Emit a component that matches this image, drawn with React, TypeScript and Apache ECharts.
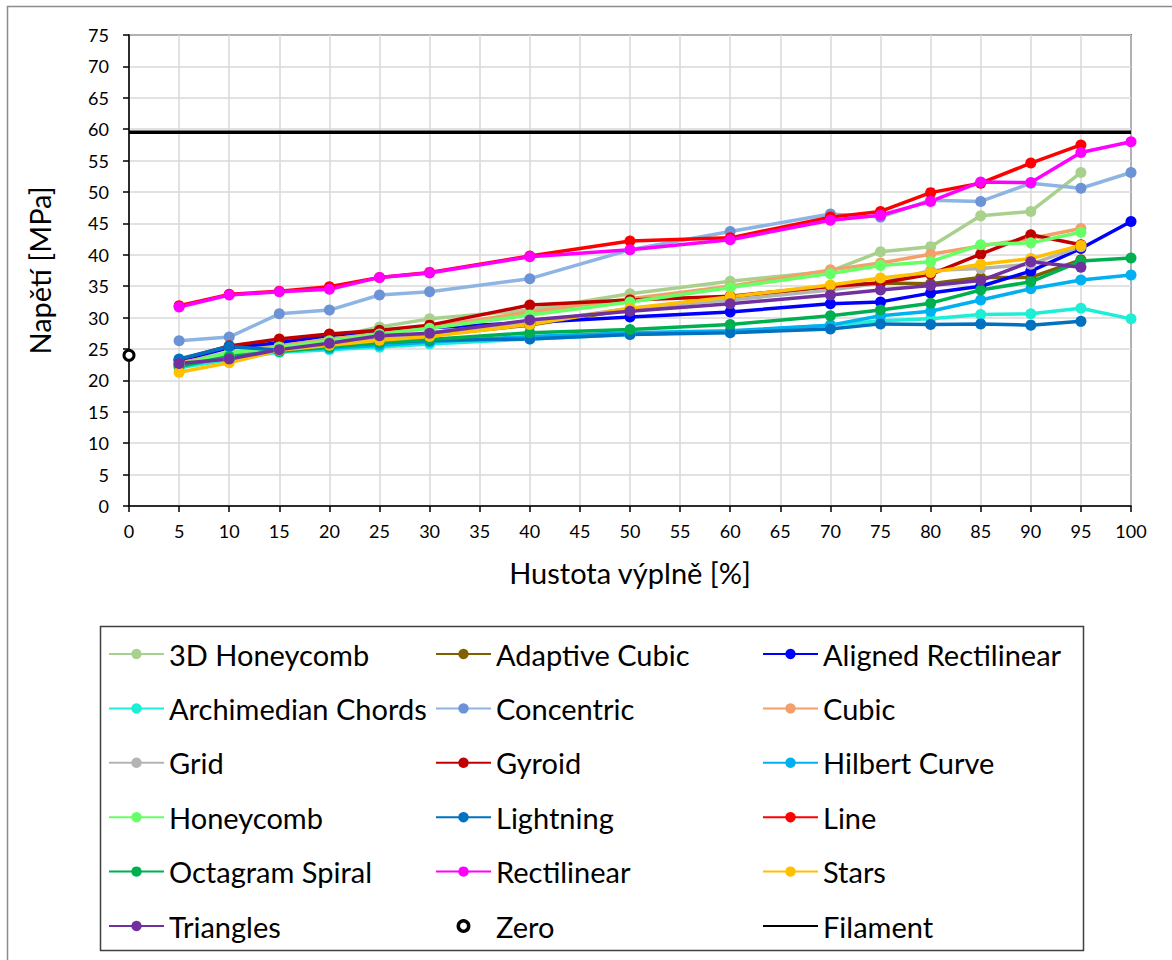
import React, { useEffect, useRef } from "react";
import * as echarts from "echarts";

const infill = [5, 10, 15, 20, 25, 30, 40, 50, 60, 70, 75, 80, 85, 90, 95, 100];
const yTicksMax = 75;

const honey3d = [22.8, 24.5, 25.6, 26.8, 28.5, 29.8, 31.2, 33.8, 35.8, 37.4, 40.5, 41.3, 46.2, 46.9, 53.1];
const adaptiveCubic = [22.5, 23.6, 24.8, 25.6, 26.5, 27.2, 28.8, 31.3, 33.0, 35.0, 35.5, 35.4, 36.4, 36.4, 39.2];
const alignedRect = [23.2, 25.2, 26.0, 27.2, 27.8, 28.4, 29.2, 30.1, 30.9, 32.2, 32.5, 33.9, 35.0, 37.4, 41.0, 45.3];
const archimedean = [22.0, 23.3, 24.5, 24.9, 25.3, 25.8, 26.6, 27.3, 27.8, 28.8, 29.5, 29.8, 30.5, 30.6, 31.5, 29.8];
const concentric = [26.3, 26.9, 30.6, 31.2, 33.6, 34.1, 36.2, 40.8, 43.7, 46.5, 46.0, 48.7, 48.5, 51.4, 50.6, 53.1];
const cubic = [22.8, 24.2, 25.5, 26.5, 27.5, 28.5, 30.9, 33.0, 35.0, 37.6, 38.7, 40.1, 41.4, 42.6, 44.2];
const grid = [22.5, 24.0, 25.0, 26.0, 26.8, 27.6, 29.2, 31.5, 32.8, 34.4, 35.5, 37.5, 37.8, 38.5, 41.3];
const gyroid = [23.3, 25.5, 26.6, 27.4, 28.0, 28.8, 32.0, 32.8, 33.4, 35.0, 35.5, 36.9, 40.1, 43.2, 41.6];
const hilbert = [22.5, 23.6, 24.8, 25.1, 25.6, 26.1, 27.0, 27.6, 27.9, 28.8, 30.3, 31.0, 32.8, 34.6, 36.0, 36.8];
const honeycomb = [22.5, 24.4, 25.3, 26.3, 27.4, 28.3, 30.4, 32.5, 34.8, 37.0, 38.3, 38.9, 41.6, 41.9, 43.6];
const lightning = [23.4, 25.4, 24.8, 25.4, 26.0, 26.4, 26.6, 27.3, 27.6, 28.2, 29.0, 28.9, 29.0, 28.8, 29.4];
const lineInfill = [31.9, 33.7, 34.2, 34.9, 36.4, 37.2, 39.8, 42.2, 42.7, 46.0, 46.9, 49.9, 51.4, 54.6, 57.5];
const octagram = [22.2, 23.8, 24.6, 25.3, 26.0, 26.5, 27.6, 28.1, 28.9, 30.3, 31.2, 32.3, 34.4, 35.7, 39.0, 39.5];
const rectilinear = [31.7, 33.6, 34.1, 34.5, 36.4, 37.1, 39.7, 40.8, 42.4, 45.5, 46.3, 48.5, 51.6, 51.5, 56.3, 58.0];
const stars = [21.3, 22.8, 24.8, 25.6, 26.4, 27.0, 28.9, 31.5, 33.3, 35.2, 36.3, 37.2, 38.5, 39.4, 41.5];
const triangles = [22.7, 23.4, 24.9, 25.9, 27.1, 27.5, 29.6, 31.0, 32.2, 33.6, 34.4, 35.1, 35.9, 38.9, 38.0];
const zeroPoint = [[0, 24.0]];
const filament = [[0, 59.5], [100, 59.5]];

const seriesDefs = [
  { name: "3D Honeycomb", data: honey3d, color: "#A9D18E" },
  { name: "Adaptive Cubic", data: adaptiveCubic, color: "#7F6000" },
  { name: "Aligned Rectilinear", data: alignedRect, color: "#0000FF" },
  { name: "Archimedian Chords", data: archimedean, color: "#1DEFD6" },
  { name: "Concentric", data: concentric, color: "#6C93D6", lineColor: "#8DB4E2" },
  { name: "Cubic", data: cubic, color: "#F4A06A" },
  { name: "Grid", data: grid, color: "#B4B4B4" },
  { name: "Gyroid", data: gyroid, color: "#C00000" },
  { name: "Hilbert Curve", data: hilbert, color: "#00B0F0" },
  { name: "Honeycomb", data: honeycomb, color: "#66FF66" },
  { name: "Lightning", data: lightning, color: "#0070C0" },
  { name: "Line", data: lineInfill, color: "#FF0000" },
  { name: "Octagram Spiral", data: octagram, color: "#00B050" },
  { name: "Rectilinear", data: rectilinear, color: "#FF00FF" },
  { name: "Stars", data: stars, color: "#FFC000" },
  { name: "Triangles", data: triangles, color: "#7030A0" },
];

const legendCol1 = ["3D Honeycomb", "Archimedian Chords", "Grid", "Honeycomb", "Octagram Spiral", "Triangles"];
const legendCol2 = ["Adaptive Cubic", "Concentric", "Gyroid", "Lightning", "Rectilinear", "Zero"];
const legendCol3 = ["Aligned Rectilinear", "Cubic", "Hilbert Curve", "Line", "Stars", "Filament"];

const FONT = "Lato, 'Noto Sans', sans-serif";

export default function App() {
  const ref = useRef<HTMLDivElement>(null);
  useEffect(() => {
    if (!ref.current) return;
    const chart = echarts.init(ref.current, undefined, { renderer: "svg" });

    const lineSeries: any[] = seriesDefs.map((s) => ({
      name: s.name,
      type: "line",
      data: s.data.map((v, i) => [infill[i], v]),
      symbol: "circle",
      symbolSize: 11,
      itemStyle: { color: s.color },
      lineStyle: { color: s.lineColor || s.color, width: 3.5 },
      emphasis: { disabled: true },
    }));

    lineSeries.push({
      name: "Zero",
      type: "line",
      data: zeroPoint,
      symbol: "circle",
      symbolSize: 10,
      itemStyle: { color: "#FFFFFF", borderColor: "#000000", borderWidth: 3 },
      lineStyle: { opacity: 0, width: 0 },
      emphasis: { disabled: true },
    });
    lineSeries.push({
      name: "Filament",
      type: "line",
      data: filament,
      symbol: "none",
      itemStyle: { color: "#000", opacity: 0 },
      lineStyle: { color: "#000", width: 3.5, opacity: 1 },
      emphasis: { disabled: true },
    });

    const legendBase = {
      orient: "vertical",
      top: 639,
      padding: 0,
      itemWidth: 55,
      itemHeight: 13,
      itemGap: 24.4,
      selectedMode: false,
      textStyle: { fontFamily: FONT, fontSize: 29, color: "#000", lineHeight: 30 },
    };

    const col2Data = legendCol2.map((n) =>
      n === "Zero"
        ? { name: n, itemStyle: { color: "#FFFFFF", borderColor: "#000000", borderWidth: 3.5 } }
        : n
    );

    chart.setOption({
      animation: false,
      backgroundColor: "#fff",
      grid: {
        left: 129,
        top: 35,
        right: 41,
        bottom: 454,
        show: true,
        borderColor: "#000",
        borderWidth: 1.5,
      },
      xAxis: {
        type: "value",
        min: 0,
        max: 100,
        interval: 5,
        name: "Hustota výplně [%]",
        nameLocation: "middle",
        nameGap: 52,
        nameTextStyle: { fontFamily: FONT, fontSize: 29, color: "#000" },
        axisLine: { show: true, lineStyle: { color: "#000", width: 1.5 } },
        axisTick: { show: true, length: 6, lineStyle: { color: "#000", width: 1.5 } },
        axisLabel: { fontFamily: FONT, fontSize: 18, color: "#000", margin: 16 },
        splitLine: { show: true, lineStyle: { color: "#D9D9D9", width: 1.5 } },
      },
      yAxis: {
        type: "value",
        min: 0,
        max: yTicksMax,
        interval: 5,
        name: "Napětí [MPa]",
        nameLocation: "middle",
        nameGap: 75,
        nameTextStyle: { fontFamily: FONT, fontSize: 29, color: "#000" },
        axisLine: { show: true, lineStyle: { color: "#000", width: 1.5 } },
        axisTick: { show: true, length: 6, lineStyle: { color: "#000", width: 1.5 } },
        axisLabel: { fontFamily: FONT, fontSize: 18, color: "#000", margin: 20 },
        splitLine: { show: true, lineStyle: { color: "#D9D9D9", width: 1.5 } },
      },
      legend: [
        { ...legendBase, left: 108, data: legendCol1 },
        { ...legendBase, left: 435, data: col2Data },
        { ...legendBase, left: 762, data: legendCol3 },
      ],
      graphic: [
        {
          type: "rect",
          silent: true,
          z: -10,
          shape: { x: 7.5, y: 6.5, width: 1300, height: 1100 },
          style: { fill: "none", stroke: "#8C8C8C", lineWidth: 1.5 },
        },
        {
          type: "rect",
          silent: true,
          shape: { x: 100.5, y: 626.5, width: 983, height: 324 },
          style: { fill: "none", stroke: "#404040", lineWidth: 1.5 },
        },
      ],
      series: lineSeries,
    });

    return () => chart.dispose();
  }, []);

  return (
    <div
      ref={ref}
      style={{ position: "absolute", left: 0, top: 0, width: 1172, height: 960, background: "#fff" }}
    />
  );
}
